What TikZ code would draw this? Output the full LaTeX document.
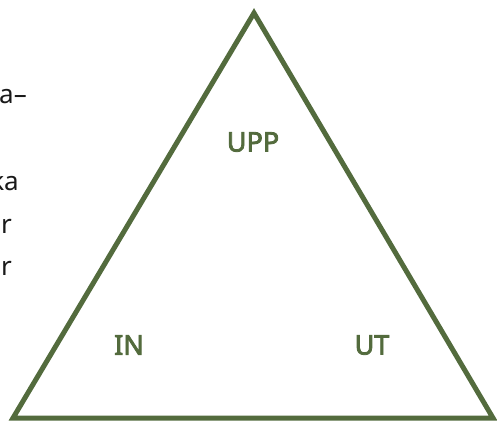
\documentclass[tikz,border=0pt]{standalone}
\usepackage{fontspec}
\setmainfont{Noto Sans}
\newfontfamily\lblfont[FakeBold=3]{Noto Sans}
\definecolor{olive}{RGB}{83,107,61}
\begin{document}
\begin{tikzpicture}[x=1pt,y=-1pt,
  edge/.style={draw=olive,line width=5pt,line join=miter},
  lbl/.style={text=olive,font=\lblfont\fontsize{27}{31}\selectfont,inner sep=0pt},
  side/.style={text=black!90,font=\fontsize{26}{30}\selectfont,inner sep=0pt,anchor=base east}]
\useasboundingbox (0,0) rectangle (497,420);
\coordinate (top) at (254,13);
\coordinate (bl) at (13,418);
\coordinate (br) at (493,418);
\draw[edge] (top) -- (br) -- (bl) -- cycle;
\node[lbl] (upp) at (253,142) {UPP};
\node[lbl] (in) at (129,345) {IN};
\node[lbl] (ut) at (372,345) {UT};
\node[side] (t1) at (27,103) {a–};
\node[side] (t2) at (19,190) {ka};
\node[side] (t3) at (12,233) {r};
\node[side] (t4) at (12,275) {or};
\end{tikzpicture}
\end{document}
